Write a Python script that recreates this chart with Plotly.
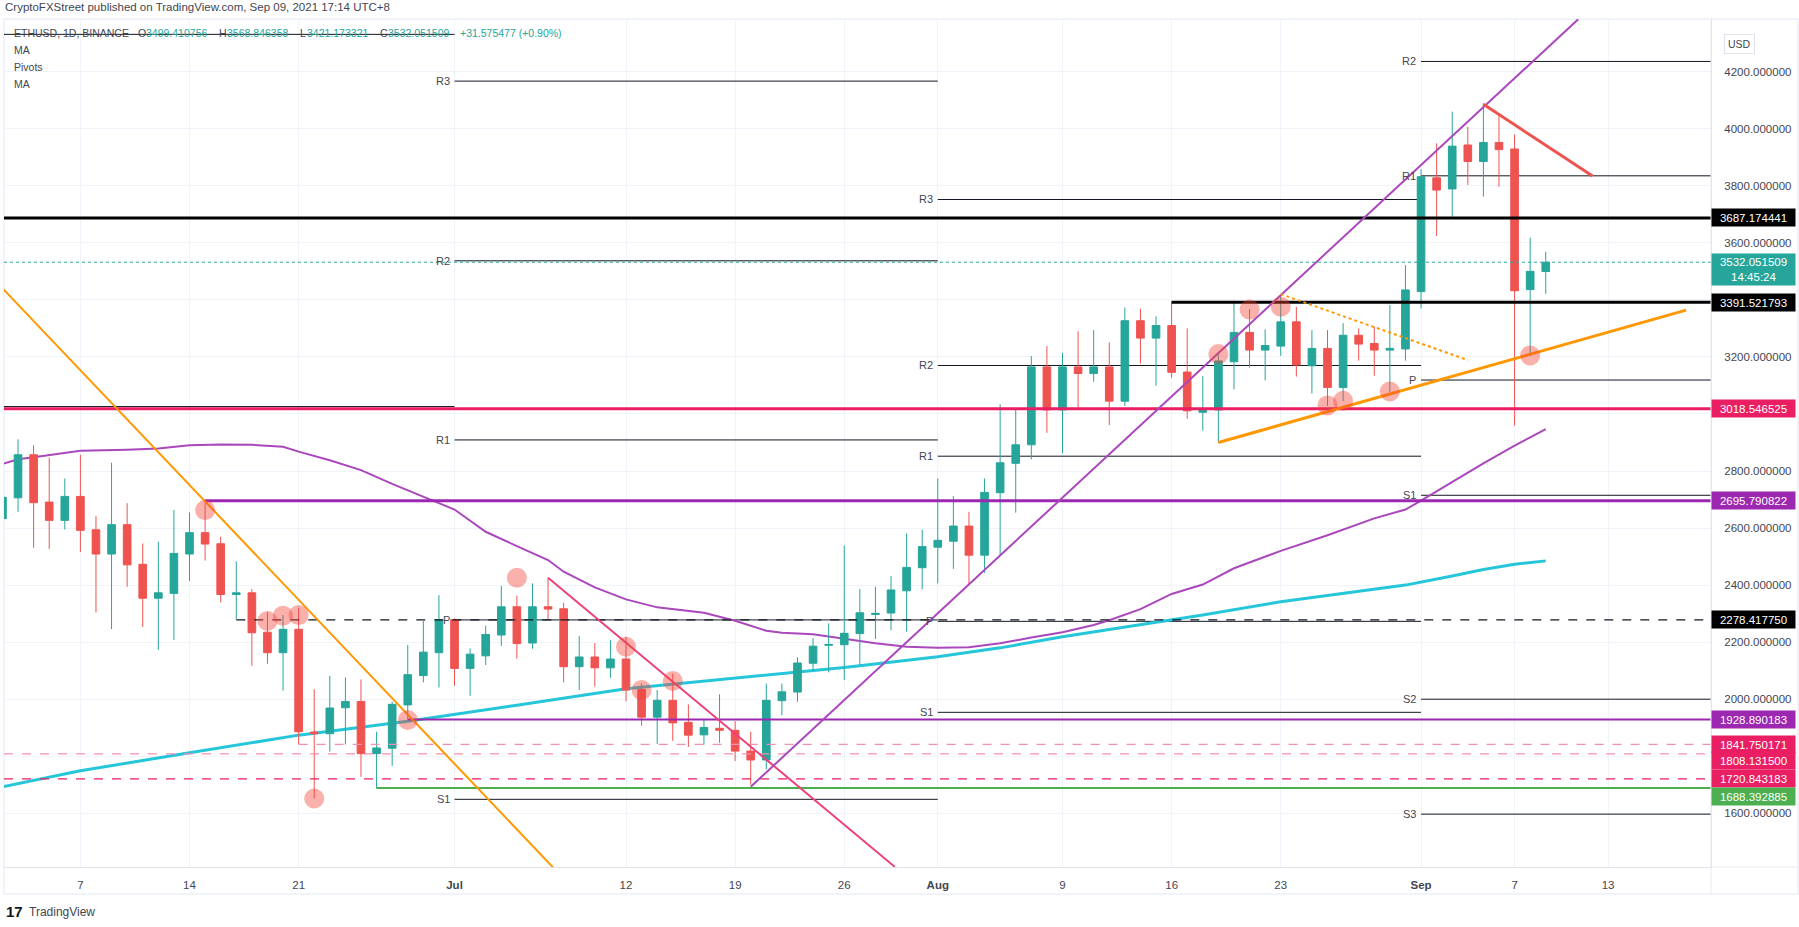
import pandas as pd
import plotly.graph_objects as go

# daily candles, 2 Jun - 9 Sep 2021
dates = pd.date_range("2021-06-02", "2021-09-09", freq="D")
opens = [2633, 2706, 2857, 2691, 2627, 2711, 2594, 2509, 2612, 2473, 2354, 2371, 2509, 2584, 2545, 2367, 2373, 2235, 2163, 2245, 1885, 1879, 1970, 1992, 1809, 1828, 1980, 2083, 2163,
         2279, 2108, 2152, 2225, 2324, 2197, 2324, 2317, 2114, 2148, 2110, 2141, 2034, 1937, 1996, 1919, 1875, 1898, 1891, 1818, 1787, 1995, 2025, 2126, 2189, 2191, 2230, 2297, 2302, 2380, 2461,
         2533, 2554, 2607, 2505, 2724, 2827, 2892, 3165, 3014, 3165, 3142, 3165, 3045, 3327, 3266, 3310, 3147, 3006, 3014, 3183, 3286, 3224, 3238, 3323, 3169, 3230, 3093, 3276, 3247, 3224, 3228,
         3429, 3828, 3789, 3943, 3885, 3952, 3929, 3436, 3499.41]
highs = [2720, 2911, 2891, 2847, 2774, 2857, 2642, 2829, 2687, 2546, 2552, 2663, 2655, 2698, 2570, 2483, 2386, 2305, 2295, 2320, 2035, 2082, 2076, 2069, 1886, 1991, 2190, 2274, 2365,
         2283, 2178, 2258, 2397, 2363, 2406, 2426, 2338, 2221, 2197, 2207, 2219, 2055, 2032, 2090, 1982, 1929, 2017, 1923, 1886, 2055, 2055, 2147, 2214, 2266, 2539, 2386, 2394, 2432, 2581, 2594,
         2774, 2712, 2657, 2774, 3034, 3022, 3203, 3238, 3214, 3290, 3294, 3251, 3373, 3369, 3342, 3394, 3300, 3133, 3212, 3397, 3367, 3297, 3420, 3376, 3294, 3294, 3318, 3300, 3306, 3382, 3522,
         3858, 3949, 4060, 4007, 4089, 4048, 3980, 3618, 3568.85]
lows = [2620, 2657, 2531, 2526, 2595, 2516, 2304, 2246, 2394, 2253, 2173, 2208, 2415, 2486, 2339, 2280, 2117, 2124, 2030, 1842, 1652, 1816, 1841, 1728, 1687, 1766, 1928, 2059, 2041,
        2047, 2012, 2120, 2187, 2142, 2177, 2277, 2059, 2032, 2044, 2075, 1993, 1907, 1843, 1854, 1833, 1841, 1847, 1783, 1700, 1754, 1944, 1991, 2100, 2094, 2067, 2120, 2211, 2242, 2237, 2385,
        2406, 2457, 2400, 2443, 2505, 2654, 2841, 2934, 2862, 3022, 3113, 2961, 3028, 3177, 3099, 3127, 2983, 2941, 2899, 3086, 3162, 3118, 3204, 3131, 3072, 3028, 3045, 3187, 3134, 3078, 3187,
        3370, 3624, 3692, 3803, 3762, 3797, 2959, 3203, 3421.17]
closes = [2708, 2857, 2689, 2627, 2711, 2592, 2509, 2612, 2471, 2354, 2373, 2511, 2584, 2544, 2367, 2373, 2233, 2163, 2245, 1886, 1879, 1969, 1992, 1809, 1829, 1982, 2086, 2165, 2279,
          2108, 2158, 2227, 2324, 2195, 2324, 2316, 2114, 2148, 2110, 2141, 2032, 1937, 1996, 1917, 1874, 1901, 1891, 1818, 1787, 1996, 2026, 2127, 2186, 2192, 2231, 2303, 2301, 2383, 2462, 2535,
          2557, 2607, 2505, 2725, 2829, 2892, 3165, 3014, 3165, 3142, 3165, 3045, 3327, 3266, 3310, 3146, 3011, 3016, 3186, 3286, 3224, 3240, 3323, 3172, 3230, 3093, 3276, 3245, 3224, 3230, 3435,
          3832, 3785, 3939, 3885, 3952, 3927, 3432, 3500, 3532.05]

# moving averages
ma50_dates = ["2021-06-02", "2021-06-03", "2021-06-04", "2021-06-05", "2021-06-06", "2021-06-07", "2021-06-10", "2021-06-12", "2021-06-14", "2021-06-16", "2021-06-18", "2021-06-20", "2021-06-21", "2021-06-23", "2021-06-25", "2021-06-27", "2021-07-01", "2021-07-03", "2021-07-05", "2021-07-07", "2021-07-08", "2021-07-10", "2021-07-12", "2021-07-14", "2021-07-17", "2021-07-19", "2021-07-21", "2021-07-22", "2021-07-24", "2021-07-26", "2021-07-28", "2021-07-30", "2021-08-01", "2021-08-03", "2021-08-05", "2021-08-07", "2021-08-09", "2021-08-11", "2021-08-12", "2021-08-14", "2021-08-16", "2021-08-18", "2021-08-20", "2021-08-23", "2021-08-26", "2021-08-29", "2021-08-31", "2021-09-01", "2021-09-03", "2021-09-05", "2021-09-07", "2021-09-09"]
ma50_values = [2825, 2841, 2848, 2856, 2865, 2871, 2875, 2879, 2890, 2893, 2892, 2885, 2868, 2838, 2803, 2755, 2665, 2587, 2537, 2488, 2447, 2392, 2350, 2322, 2303, 2275, 2240, 2233, 2228, 2211, 2196, 2184, 2180, 2182, 2196, 2216, 2235, 2260, 2277, 2316, 2369, 2402, 2459, 2520, 2575, 2634, 2665, 2696, 2762, 2827, 2889, 2947]
ma200_dates = ["2021-06-02", "2021-06-07", "2021-06-14", "2021-06-21", "2021-06-28", "2021-07-01", "2021-07-05", "2021-07-12", "2021-07-15", "2021-07-17", "2021-07-19", "2021-07-26", "2021-08-01", "2021-08-05", "2021-08-09", "2021-08-16", "2021-08-18", "2021-08-23", "2021-08-28", "2021-08-31", "2021-09-03", "2021-09-05", "2021-09-07", "2021-09-09"]
ma200_values = [1693, 1749, 1812, 1874, 1923, 1948, 1979, 2037, 2053, 2064, 2073, 2111, 2149, 2180, 2219, 2277, 2295, 2342, 2377, 2400, 2432, 2455, 2473, 2485]

# monthly pivots: label, start, end, value
X_LEFT = "2021-06-02 02:24"
X_RIGHT = "2021-09-19 14:24"
pivot_labels = ["", "", "R3", "R2", "R1", "P", "S1", "R3", "R2", "R1", "P", "S1", "R2", "R1", "P", "S1", "S2", "S3"]
pivot_starts = [X_LEFT, X_LEFT] + ["2021-07-01"] * 5 + ["2021-08-01"] * 5 + ["2021-09-01"] * 6
pivot_ends = ["2021-07-01"] * 7 + ["2021-08-01"] * 0 + ["2021-08-01"] * 0 + ["2021-09-01"] * 5 + [X_RIGHT] * 6
pivot_ends[2:7] = ["2021-08-01"] * 5
pivot_values = [4331, 3026, 4167, 3537, 2909, 2278, 1649, 3752, 3170, 2852, 2273, 1954, 4236, 3835, 3119, 2715, 2000, 1597]

# horizontal levels drawn by hand
level_starts = [X_LEFT, "2021-08-16", X_LEFT, "2021-06-15", "2021-06-28", "2021-06-17", "2021-06-21", X_LEFT, X_LEFT, "2021-06-26"]
level_values = [3687.174441, 3391.521793, 3018.546525, 2695.790822, 1928.890183, 2278.417750, 1841.750171, 1808.131500, 1720.843183, 1688.392885]
level_colors = ["#000000", "#000000", "#e91e63", "#9c27b0", "#9c27b0", "#131722", "#f48fb1", "#f48fb1", "#e91e63", "#4caf50"]
level_widths = [3, 3, 3, 3, 2, 1.2, 1.2, 1.2, 1.2, 2]
level_dashes = ["solid", "solid", "solid", "solid", "solid", "dash", "dash", "dash", "dash", "solid"]
level_label_shift = [0, 0, 0, 0, 0, 0, 0, 7, 0, 8]
level_label_bg = ["#000000", "#000000", "#e91e63", "#9c27b0", "#9c27b0", "#000000", "#e91e63", "#e91e63", "#e91e63", "#4caf50"]

# trend lines: x pair, y pair, colour, width, dash
trend_lines = [
    (["2021-06-02", "2021-07-08"], [3441, 1371], "#ff9800", 2, "solid"),
    (["2021-07-07", "2021-07-29 06:00"], [2426, 1412], "#ec407a", 2, "solid"),
    (["2021-07-20", "2021-09-11 02:00"], [1693, 4384], "#ab47bc", 2, "solid"),
    (["2021-08-19", "2021-09-18"], [2900, 3364], "#ff9800", 3, "solid"),
    (["2021-08-23", "2021-09-04"], [3420, 3189], "#ff9800", 2, "dot"),
    (["2021-09-05", "2021-09-12"], [4086, 3834], "#ef5350", 3, "solid"),
]

# highlighted touches
ball_dates = ["2021-06-15", "2021-06-19", "2021-06-20", "2021-06-21", "2021-06-22", "2021-06-28", "2021-07-05", "2021-07-12", "2021-07-13", "2021-07-15", "2021-08-19", "2021-08-21", "2021-08-23", "2021-08-26", "2021-08-27", "2021-08-30", "2021-09-08"]
ball_values = [2663, 2274, 2293, 2295, 1652, 1927, 2426, 2184, 2032, 2064, 3210, 3366, 3376, 3030, 3046, 3079, 3205]

tick_dates = ["2021-06-07", "2021-06-14", "2021-06-21", "2021-07-01", "2021-07-12", "2021-07-19", "2021-07-26", "2021-08-01", "2021-08-09", "2021-08-16", "2021-08-23", "2021-09-01", "2021-09-07", "2021-09-13"]
tick_labels = ["7", "14", "21", "<b>Jul</b>", "12", "19", "26", "<b>Aug</b>", "9", "16", "23", "<b>Sep</b>", "7", "13"]
price_ticks = [1600, 1800, 2000, 2200, 2400, 2600, 2800, 3000, 3200, 3400, 3600, 3800, 4000, 4200]
price_labels = ["1600.000000", "", "2000.000000", "2200.000000", "2400.000000", "2600.000000", "2800.000000", "", "3200.000000", "", "3600.000000", "3800.000000", "4000.000000", "4200.000000"]

Y_RANGE = [1411.7, 4384.8]
TEAL = "#26a69a"
RED = "#ef5350"
FONT = "Liberation Sans"
TEXT = "#434651"

PLOT_L, PLOT_R, PLOT_T, PLOT_B = 4, 1711, 19, 867


def px_x(px):
    return (px - PLOT_L) / (PLOT_R - PLOT_L)


def px_y(py):
    return 1 - (py - PLOT_T) / (PLOT_B - PLOT_T)


fig = go.Figure()

# bottom layer: pivots and moving averages
for start, end, value in zip(pivot_starts, pivot_ends, pivot_values):
    fig.add_trace(go.Scatter(x=[start, end], y=[value, value], mode="lines",
                             line=dict(color="#131722", width=1), hoverinfo="skip"))
fig.add_trace(go.Scatter(x=ma200_dates, y=ma200_values, mode="lines", name="MA",
                         line=dict(color="#26c6da", width=3)))
fig.add_trace(go.Scatter(x=ma50_dates, y=ma50_values, mode="lines", name="MA",
                         line=dict(color="#ab47bc", width=2)))

# candles sit above the averages
fig.add_trace(go.Candlestick(x=dates, open=opens, high=highs, low=lows, close=closes,
                             increasing=dict(line=dict(color=TEAL, width=1), fillcolor=TEAL),
                             decreasing=dict(line=dict(color=RED, width=1), fillcolor=RED),
                             whiskerwidth=0, xaxis="x2", yaxis="y2"))

# drawings on top of the candles
fig.add_trace(go.Scatter(x=[X_LEFT, X_RIGHT], y=[closes[-1], closes[-1]], mode="lines",
                         line=dict(color=TEAL, width=1, dash="dot"), xaxis="x3", yaxis="y3"))
for start, value, color, width, dash in zip(level_starts, level_values, level_colors, level_widths, level_dashes):
    fig.add_trace(go.Scatter(x=[start, X_RIGHT], y=[value, value], mode="lines",
                             line=dict(color=color, width=width, dash=dash), xaxis="x3", yaxis="y3"))
for tx, ty, color, width, dash in trend_lines:
    fig.add_trace(go.Scatter(x=tx, y=ty, mode="lines",
                             line=dict(color=color, width=width, dash=dash), xaxis="x3", yaxis="y3"))
fig.add_trace(go.Scatter(x=ball_dates, y=ball_values, mode="markers",
                         marker=dict(size=20, color="rgba(244,67,54,0.42)", line=dict(width=0)),
                         xaxis="x3", yaxis="y3"))

annotations = []


def text_at(px, py, text, color=TEXT, size=11, anchor="left", **kw):
    annotations.append(dict(xref="paper", yref="paper", x=px_x(px), y=px_y(py), text=text, showarrow=False,
                            xanchor=anchor, yanchor="middle", font=dict(family=FONT, size=size, color=color), **kw))


# header and legend
text_at(3, 7, "CryptoFXStreet published on TradingView.com, Sep 09, 2021 17:14 UTC+8", size=11.5)
text_at(12, 33, "ETHUSD, 1D, BINANCE", size=10.5)
for px, label, px2, value in [(136, "O", 144, "3499.410756"), (217, "H", 225, "3568.846358"),
                              (298, "L", 305, "3421.173321"), (378, "C", 386, "3532.051509")]:
    text_at(px, 33, label, size=10.5)
    text_at(px2, 33, value, color=TEAL, size=10.5)
text_at(458, 33, "+31.575477 (+0.90%)", color=TEAL, size=10.5)
text_at(12, 50, "MA", size=10.5)
text_at(12, 67, "Pivots", size=10.5)
text_at(12, 84, "MA", size=10.5)
text_at(27, 912, "TradingView", size=12)
text_at(4, 912, "<b>17</b>", color="#131722", size=15)
annotations.append(dict(xref="paper", yref="paper", x=px_x(1754.5), y=px_y(34), text="USD", showarrow=False,
                        font=dict(family=FONT, size=10.5, color=TEXT), bordercolor="#e0e3eb", borderwidth=1,
                        borderpad=3, bgcolor="#ffffff"))

# pivot names left of their lines
for label, start, value in zip(pivot_labels, pivot_starts, pivot_values):
    if label:
        annotations.append(dict(x=start, y=value, text=label, showarrow=False, xanchor="right", xshift=-3,
                                font=dict(family=FONT, size=11, color=TEXT)))


def price_tag(value, text, bg, shift=0, height=17):
    annotations.append(dict(xref="paper", yref="y", x=1, y=value, yshift=shift, text=text, showarrow=False,
                            xanchor="left", width=83, height=height, bgcolor=bg, borderpad=0, align="center",
                            font=dict(family=FONT, size=11.5, color="#ffffff")))


price_tag(closes[-1], "3532.051509<br>14:45:24", TEAL, shift=-7, height=31)
for value, bg, shift in zip(level_values, level_label_bg, level_label_shift):
    price_tag(value, f"{value:.6f}", bg, shift=-shift)

axis_common = dict(range=[X_LEFT, X_RIGHT], type="date", rangeslider=dict(visible=False))
fig.update_layout(
    width=1799, height=927, autosize=False, showlegend=False,
    paper_bgcolor="#ffffff", plot_bgcolor="#ffffff",
    margin=dict(l=PLOT_L, r=1799 - PLOT_R, t=PLOT_T, b=927 - PLOT_B, autoexpand=False),
    xaxis=dict(tickmode="array", tickvals=tick_dates, ticktext=tick_labels, showgrid=True, gridcolor="#f0f3fa",
               zeroline=False, ticks="outside", ticklen=7, tickcolor="rgba(0,0,0,0)",
               tickfont=dict(family=FONT, size=11.5, color=TEXT), showline=True, linecolor="#e0e3eb", **axis_common),
    yaxis=dict(range=Y_RANGE, side="right", tickmode="array", tickvals=price_ticks, ticktext=price_labels,
               showgrid=True, gridcolor="#f0f3fa", zeroline=False, ticks="outside", ticklen=10,
               tickcolor="rgba(0,0,0,0)", tickfont=dict(family=FONT, size=11.5, color=TEXT),
               showline=True, linecolor="#e0e3eb"),
    xaxis2=dict(overlaying="x", visible=False, **axis_common),
    yaxis2=dict(overlaying="y", visible=False, range=Y_RANGE),
    xaxis3=dict(overlaying="x", visible=False, **axis_common),
    yaxis3=dict(overlaying="y", visible=False, range=Y_RANGE),
    annotations=annotations,
    shapes=[
        # chart frame
        dict(type="rect", xref="paper", yref="paper", x0=px_x(4), x1=px_x(1798), y0=px_y(894), y1=px_y(19),
             line=dict(color="#f0f3fa", width=2), layer="below"),
        dict(type="line", xref="paper", yref="paper", x0=1, x1=1, y0=px_y(894), y1=1,
             line=dict(color="#e8eaf0", width=1)),
        dict(type="line", xref="paper", yref="paper", x0=1, x1=px_x(1798), y0=0, y1=0,
             line=dict(color="#e8eaf0", width=1)),
    ],
)

fig.write_html("out.html", config=dict(displayModeBar=False),
               post_script="document.body.style.margin='0';")
